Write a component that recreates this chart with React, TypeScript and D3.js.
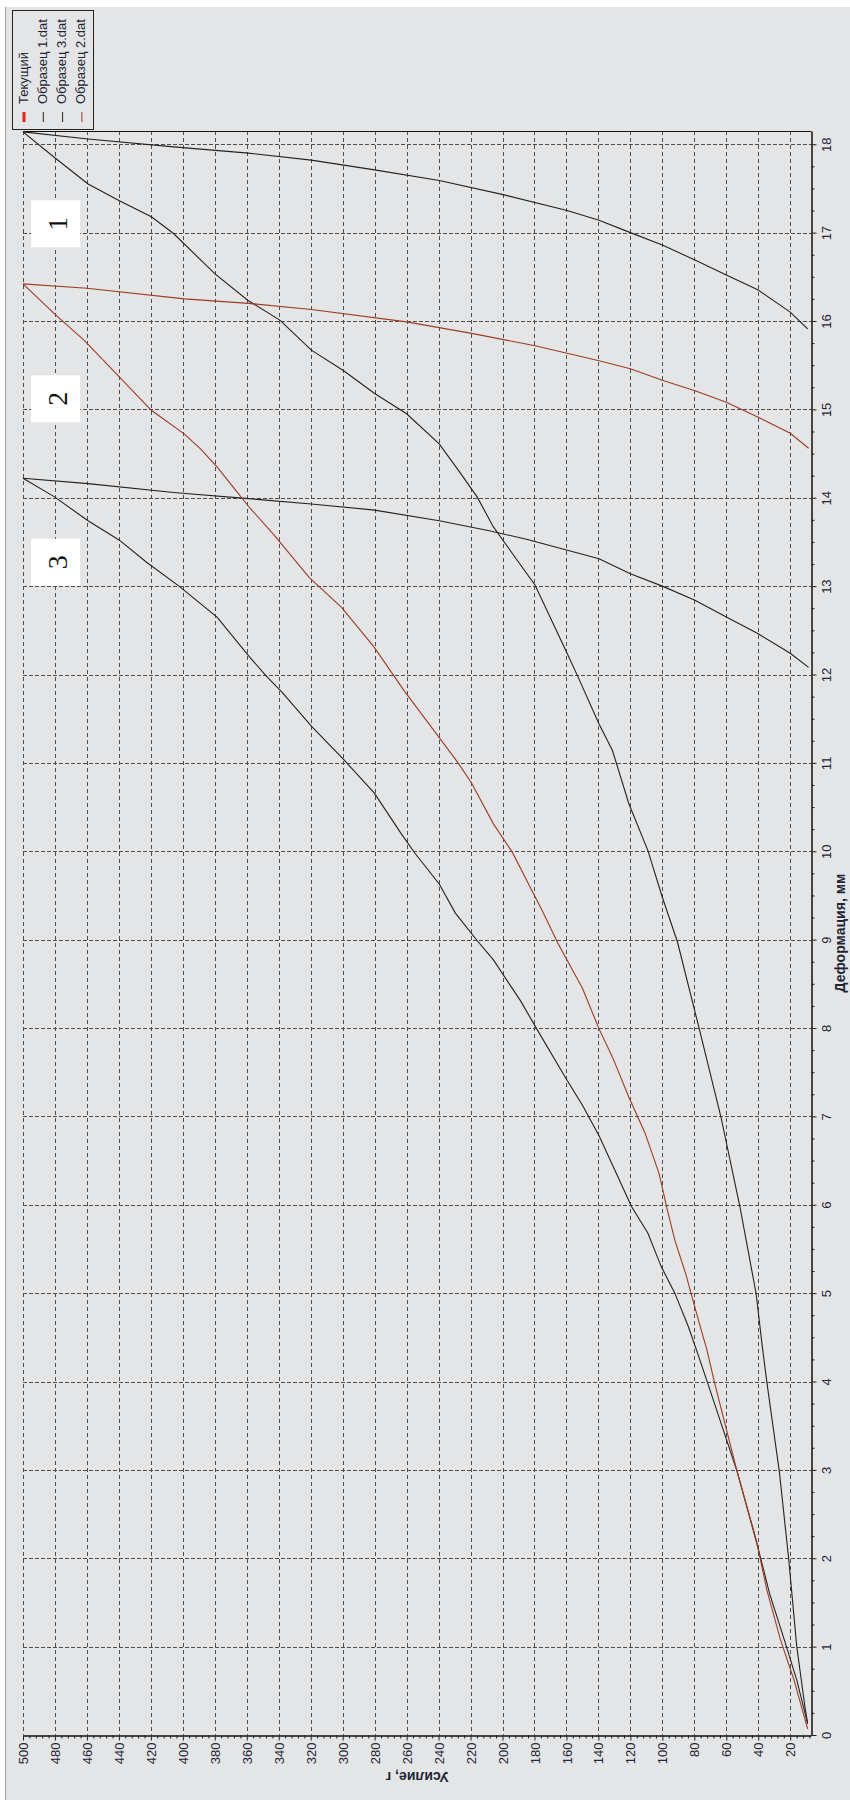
import { useEffect, useRef } from 'react';
import { select, scaleLinear, axisBottom, axisRight, line, range } from 'd3';

const legendNames = ['Текущий', 'Образец 1.dat', 'Образец 3.dat', 'Образец 2.dat'];
const legendColors = ['#e3261c', '#222222', '#222222', '#9e3b22'];

const forceTicks = [20, 40, 60, 80, 100, 120, 140, 160, 180, 200, 220, 240, 260, 280, 300, 320, 340, 360, 380, 400, 420, 440, 460, 480, 500];
const deformTicks = [0, 1, 2, 3, 4, 5, 6, 7, 8, 9, 10, 11, 12, 13, 14, 15, 16, 17, 18];

// Образец 1 — нагружение / разгрузка
const s1LoadForce = [9.1, 10.8, 15.9, 21.0, 26.8, 34.6, 37.5, 41.3, 51.5, 63.3, 76.9, 90.5, 100, 109.1, 121.0, 131.2, 139.6, 153.2, 159.6, 179.6, 205.7, 215.9, 226, 239.6, 260, 280, 299.6, 319.6, 339.3, 359, 379.7, 405.8, 419.7, 439.7, 459.3, 480.3, 500];
const s1LoadDeform = [0.13, 0.32, 1.0, 2.0, 2.98, 3.99, 4.4, 4.99, 5.98, 6.99, 7.99, 8.97, 9.48, 10.01, 10.54, 11.14, 11.44, 11.99, 12.24, 13.01, 13.67, 14.01, 14.27, 14.61, 14.95, 15.18, 15.44, 15.67, 16.01, 16.23, 16.53, 16.99, 17.18, 17.36, 17.55, 17.85, 18.14];
const s1UnloadForce = [500, 459.3, 405.8, 359, 319.6, 280, 239.6, 199.6, 159.6, 139.6, 120, 100, 79.6, 60, 40, 20, 9.1];
const s1UnloadDeform = [18.14, 18.06, 17.97, 17.9, 17.82, 17.71, 17.59, 17.43, 17.25, 17.14, 17.0, 16.86, 16.69, 16.52, 16.35, 16.1, 15.91];

// Образец 2
const s2LoadForce = [9.1, 17.6, 26.1, 34.6, 41.3, 53.2, 67.4, 72, 78.6, 85.4, 92.2, 97, 102, 110.8, 121.0, 131.2, 139.6, 150, 165.1, 175.2, 183.7, 193.9, 205.7, 219.3, 227.8, 243.1, 261.7, 280.3, 300.7, 321.0, 343, 358.3, 368.5, 378.6, 388.8, 399, 419.7, 441.4, 461.7, 480.3, 500];
const s2LoadDeform = [0.07, 0.62, 1.08, 1.64, 2.21, 2.98, 3.99, 4.35, 4.77, 5.22, 5.6, 5.95, 6.35, 6.81, 7.22, 7.67, 7.99, 8.45, 8.95, 9.33, 9.63, 9.99, 10.31, 10.77, 11.0, 11.37, 11.82, 12.31, 12.76, 13.1, 13.58, 13.89, 14.12, 14.35, 14.55, 14.72, 14.99, 15.4, 15.78, 16.08, 16.42];
const s2UnloadForce = [500, 460, 399, 359, 319.6, 260, 219.3, 179.6, 139.6, 120, 100, 79.6, 60, 40, 20, 8.5];
const s2UnloadDeform = [16.42, 16.37, 16.25, 16.2, 16.13, 15.99, 15.86, 15.72, 15.55, 15.46, 15.33, 15.21, 15.08, 14.91, 14.73, 14.56];

// Образец 3
const s3LoadForce = [9.1, 15.9, 22.7, 32.9, 40.3, 53.2, 71.8, 78.5, 83.7, 92.2, 100.7, 109.1, 119.3, 131.2, 139.6, 149.8, 160, 178.6, 188.8, 205.7, 215.9, 229.5, 239.6, 254.9, 263.4, 280.3, 299, 319.3, 338, 348.2, 358.3, 378.6, 402.4, 422.7, 439.7, 459.3, 480.3, 500];
const s3LoadDeform = [0.13, 0.62, 1.02, 1.6, 2.13, 2.98, 3.99, 4.35, 4.62, 5.0, 5.3, 5.68, 5.98, 6.45, 6.78, 7.12, 7.42, 7.99, 8.31, 8.77, 8.99, 9.3, 9.63, 9.98, 10.2, 10.66, 11.03, 11.41, 11.8, 11.99, 12.2, 12.65, 13.0, 13.27, 13.52, 13.74, 14.01, 14.22];
const s3UnloadForce = [500, 459.3, 405.8, 359, 319.6, 280, 239.6, 209, 185, 139.6, 120, 100, 79.6, 60, 40, 20, 8.5];
const s3UnloadDeform = [14.22, 14.16, 14.06, 13.99, 13.93, 13.86, 13.74, 13.63, 13.53, 13.31, 13.14, 13.0, 12.84, 12.65, 12.46, 12.24, 12.08];

// подписи-номера образцов
const boxLabels = ['1', '2', '3'];
const boxDeform = [17.1, 15.12, 13.27];
const boxForce = 479.6;

const FONT = '"Liberation Sans", Arial, sans-serif';

const App = () => {
  const ref = useRef<SVGSVGElement>(null);

  useEffect(() => {
    const svg = select(ref.current);
    svg.selectAll('*').remove();

    const x = scaleLinear().domain([500, 7]).range([23, 811]);
    const y = scaleLinear().domain([0, 18.15]).range([1735, 131]);
    const px = (v: number) => Math.round(v) + 0.5;

    svg.append('rect').attr('width', 850).attr('height', 1800).attr('fill', '#ffffff');
    svg.append('rect').attr('x', 6).attr('y', 7).attr('width', 844).attr('height', 1793).attr('fill', '#e4e5e7');
    svg.append('line').attr('x1', 5.5).attr('x2', 5.5).attr('y1', 7).attr('y2', 1800).attr('stroke', '#a0a0a0');

    // сетка
    const grid = svg.append('g').attr('stroke', '#4e4e4e').attr('stroke-width', 1);
    grid
      .selectAll('line.v')
      .data(forceTicks)
      .join('line')
      .attr('class', 'v')
      .attr('x1', (d) => px(x(d)))
      .attr('x2', (d) => px(x(d)))
      .attr('y1', y(18.15))
      .attr('y2', y(0))
      .attr('stroke-dasharray', '4,3');
    grid
      .selectAll('line.h')
      .data(deformTicks.filter((d) => d > 0))
      .join('line')
      .attr('class', 'h')
      .attr('x1', x(500))
      .attr('x2', x(7))
      .attr('y1', (d) => px(y(d)))
      .attr('y2', (d) => px(y(d)))
      .attr('stroke-dasharray', '4,2');

    // рамка сверху
    svg
      .append('line')
      .attr('x1', x(500))
      .attr('x2', x(7))
      .attr('y1', px(y(18.15)))
      .attr('y2', px(y(18.15)))
      .attr('stroke', '#111');

    // оси
    const bottomY = px(y(0));
    const rightX = px(x(7));
    const minorForce = range(8, 500, 4).filter((v) => v % 20 !== 0);
    const minorDeform = range(0.25, 18.1, 0.25).filter((v) => v % 1 !== 0);

    svg
      .append('g')
      .attr('transform', `translate(0,${bottomY})`)
      .call(axisBottom(x).tickValues(minorForce).tickSizeInner(3).tickSizeOuter(0).tickFormat(() => '') as any);
    const xAxis = svg
      .append('g')
      .attr('transform', `translate(0,${bottomY})`)
      .call(axisBottom(x).tickValues(forceTicks).tickSizeInner(5).tickSizeOuter(0) as any);
    xAxis
      .selectAll('text')
      .attr('transform', 'rotate(-90)')
      .attr('text-anchor', 'end')
      .attr('x', -7)
      .attr('y', 0)
      .attr('dy', '0.35em');

    svg
      .append('g')
      .attr('transform', `translate(${rightX},0)`)
      .call(axisRight(y).tickValues(minorDeform).tickSizeInner(3).tickSizeOuter(0).tickFormat(() => '') as any);
    const yAxis = svg
      .append('g')
      .attr('transform', `translate(${rightX},0)`)
      .call(axisRight(y).tickValues(deformTicks).tickSizeInner(5).tickSizeOuter(0) as any);
    yAxis
      .selectAll('text')
      .attr('transform', 'rotate(-90)')
      .attr('text-anchor', 'middle')
      .attr('x', 0)
      .attr('y', 19)
      .attr('dy', 0);

    svg.selectAll('.domain').attr('stroke', '#111');
    svg.selectAll('.tick line').attr('stroke', '#222');
    svg.selectAll('.tick text').attr('font-family', FONT).attr('font-size', 13).attr('fill', '#1f2633');

    // кривые
    const curves = [
      { f: s1LoadForce, d: s1LoadDeform, c: legendColors[1] },
      { f: s1UnloadForce, d: s1UnloadDeform, c: legendColors[1] },
      { f: s3LoadForce, d: s3LoadDeform, c: legendColors[2] },
      { f: s3UnloadForce, d: s3UnloadDeform, c: legendColors[2] },
      { f: s2LoadForce, d: s2LoadDeform, c: legendColors[3] },
      { f: s2UnloadForce, d: s2UnloadDeform, c: legendColors[3] },
    ];
    const path = line<[number, number]>()
      .x((p) => x(p[0]))
      .y((p) => y(p[1]));
    svg
      .append('g')
      .selectAll('path')
      .data(curves)
      .join('path')
      .attr('d', (s) => path(s.f.map((v, i) => [v, s.d[i]] as [number, number])))
      .attr('fill', 'none')
      .attr('stroke', (s) => s.c)
      .attr('stroke-width', 1.1);

    // номера
    const boxes = svg
      .append('g')
      .selectAll('g')
      .data(boxLabels)
      .join('g')
      .attr('transform', (_, i) => `translate(${x(boxForce)},${y(boxDeform[i])})`);
    boxes.append('rect').attr('x', -24.5).attr('y', -23.5).attr('width', 49).attr('height', 47).attr('fill', '#ffffff');
    boxes
      .append('text')
      .attr('transform', 'rotate(-90)')
      .attr('text-anchor', 'middle')
      .attr('dy', '0.35em')
      .attr('y', 2)
      .attr('font-family', '"Liberation Serif", "Times New Roman", serif')
      .attr('font-size', 28)
      .attr('fill', '#111')
      .text((d) => d);

    // легенда
    const legend = svg.append('g');
    legend
      .append('rect')
      .attr('x', 12.5)
      .attr('y', 10.5)
      .attr('width', 81)
      .attr('height', 119)
      .attr('fill', 'none')
      .attr('stroke', '#222');
    const items = legend
      .selectAll('g')
      .data(legendNames)
      .join('g')
      .attr('transform', (_, i) => `translate(${24 + i * 19.3},0)`);
    items
      .append('line')
      .attr('x1', 0)
      .attr('x2', 0)
      .attr('y1', 112)
      .attr('y2', 122)
      .attr('stroke', (_, i) => legendColors[i])
      .attr('stroke-width', (_, i) => (i === 0 ? 3 : 1));
    items
      .append('text')
      .attr('transform', 'translate(3.5,104) rotate(-90)')
      .attr('font-family', FONT)
      .attr('font-size', 13)
      .attr('fill', '#1f2633')
      .text((d) => d);

    // подписи осей
    svg
      .append('text')
      .attr('transform', `translate(${(x(500) + x(7)) / 2},1772) rotate(180)`)
      .attr('text-anchor', 'middle')
      .attr('font-family', FONT)
      .attr('font-size', 14)
      .attr('font-weight', 'bold')
      .attr('fill', '#1f2633')
      .text('Усилие, г');
    svg
      .append('text')
      .attr('transform', `translate(845,${(y(0) + y(18.15)) / 2}) rotate(-90)`)
      .attr('text-anchor', 'middle')
      .attr('font-family', FONT)
      .attr('font-size', 14)
      .attr('font-weight', 'bold')
      .attr('fill', '#1f2633')
      .text('Деформация, мм');
  }, []);

  return (
    <svg
      ref={ref}
      width={850}
      height={1800}
      style={{ position: 'absolute', left: 0, top: 0, display: 'block' }}
    />
  );
};

export default App;
